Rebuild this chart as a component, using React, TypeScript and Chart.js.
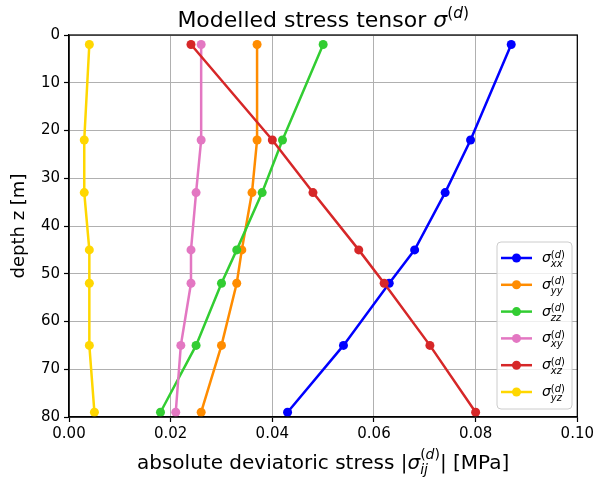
import React, { useEffect, useRef } from 'react';
import { Chart, registerables } from 'chart.js';

Chart.register(...registerables);

// ---- data ----
const depths = [2, 22, 33, 45, 52, 65, 79];
const sigmaXX = [0.087, 0.079, 0.074, 0.068, 0.063, 0.054, 0.043];
const sigmaYY = [0.037, 0.037, 0.036, 0.034, 0.033, 0.030, 0.026];
const sigmaZZ = [0.050, 0.042, 0.038, 0.033, 0.030, 0.025, 0.018];
const sigmaXY = [0.026, 0.026, 0.025, 0.024, 0.024, 0.022, 0.021];
const sigmaXZ = [0.024, 0.040, 0.048, 0.057, 0.062, 0.071, 0.080];
const sigmaYZ = [0.004, 0.003, 0.003, 0.004, 0.004, 0.004, 0.005];

const seriesValues = [sigmaXX, sigmaYY, sigmaZZ, sigmaXY, sigmaXZ, sigmaYZ];
const seriesSubscripts = ['xx', 'yy', 'zz', 'xy', 'xz', 'yz'];
const seriesColors = ['#0000ff', '#ff8c00', '#32cd32', '#e377c2', '#d62728', '#ffd700'];

const xTickValues = [0, 0.02, 0.04, 0.06, 0.08, 0.1];
const yTickValues = [0, 10, 20, 30, 40, 50, 60, 70, 80];

const titleMain = 'Modelled stress tensor ';
const xLabelBefore = 'absolute deviatoric stress |';
const xLabelAfter = '| [MPa]';
const xLabelSub = 'ij';
const yLabel = 'depth z [m]';
const sigmaChar = 'σ';
const supText = 'd';

const FAMILY = '"DejaVu Sans", "Noto Sans", sans-serif';

type TextSeg = { text: string; size: number; italic?: boolean; dy?: number };
type StackSeg = { stack: Seg[][] };
type Seg = TextSeg | StackSeg;

function fontOf(s: TextSeg) {
  return `${s.italic ? 'italic ' : ''}${s.size}px ${FAMILY}`;
}
function segWidth(ctx: CanvasRenderingContext2D, s: Seg): number {
  if ('stack' in s) {
    return Math.max(...s.stack.map((row) => row.reduce((a, r) => a + segWidth(ctx, r), 0)));
  }
  ctx.font = fontOf(s);
  return ctx.measureText(s.text).width;
}
function segsWidth(ctx: CanvasRenderingContext2D, segs: Seg[]) {
  return segs.reduce((a, s) => a + segWidth(ctx, s), 0);
}
function drawSegs(ctx: CanvasRenderingContext2D, segs: Seg[], x: number, y: number) {
  let cx = x;
  for (const s of segs) {
    if ('stack' in s) {
      for (const row of s.stack) drawSegs(ctx, row, cx, y);
      cx += segWidth(ctx, s);
    } else {
      ctx.font = fontOf(s);
      ctx.fillText(s.text, cx, y + (s.dy || 0));
      cx += ctx.measureText(s.text).width;
    }
  }
}
function supSegs(size: number, dy: number): Seg[] {
  return [
    { text: '(', size, dy },
    { text: supText, size, italic: true, dy },
    { text: ')', size, dy },
  ];
}

const decorPlugin = {
  id: 'decor',
  afterDatasetsDraw(chart: any) {
    const ctx: CanvasRenderingContext2D = chart.ctx;
    const a = chart.chartArea;
    ctx.save();
    // frame
    ctx.strokeStyle = '#000';
    ctx.lineWidth = 1.25;
    ctx.strokeRect(a.left, a.top, a.right - a.left, a.bottom - a.top);

    ctx.fillStyle = '#000';
    ctx.textBaseline = 'alphabetic';
    const cx = (a.left + a.right) / 2;

    // title
    const tSize = 22;
    const title: Seg[] = [
      { text: titleMain, size: tSize },
      { text: sigmaChar, size: tSize, italic: true },
      ...supSegs(tSize * 0.7, -9.5),
    ];
    drawSegs(ctx, title, cx - segsWidth(ctx, title) / 2, 27);

    // x label
    const lSize = 20;
    const xl: Seg[] = [
      { text: xLabelBefore, size: lSize },
      { text: sigmaChar, size: lSize, italic: true },
      { stack: [supSegs(lSize * 0.7, -10), [{ text: xLabelSub, size: lSize * 0.7, italic: true, dy: 5 }]] },
      { text: xLabelAfter, size: lSize },
    ];
    drawSegs(ctx, xl, cx - segsWidth(ctx, xl) / 2, 469);

    // y label
    const yl: Seg[] = [{ text: yLabel, size: 18 }];
    ctx.save();
    ctx.translate(24, (a.top + a.bottom) / 2);
    ctx.rotate(-Math.PI / 2);
    drawSegs(ctx, yl, -segsWidth(ctx, yl) / 2, 0);
    ctx.restore();

    // legend
    const bx = 497, by = 242, bw = 75, bh = 167, r = 4;
    ctx.beginPath();
    ctx.moveTo(bx + r, by);
    ctx.arcTo(bx + bw, by, bx + bw, by + bh, r);
    ctx.arcTo(bx + bw, by + bh, bx, by + bh, r);
    ctx.arcTo(bx, by + bh, bx, by, r);
    ctx.arcTo(bx, by, bx + bw, by, r);
    ctx.closePath();
    ctx.fillStyle = 'rgba(255,255,255,0.8)';
    ctx.fill();
    ctx.strokeStyle = '#cccccc';
    ctx.lineWidth = 1;
    ctx.stroke();

    const gSize = 14;
    seriesSubscripts.forEach((sub, i) => {
      const ry = 258 + i * 26.8;
      const col = seriesColors[i];
      ctx.strokeStyle = col;
      ctx.lineWidth = 2.5;
      ctx.beginPath();
      ctx.moveTo(501, ry);
      ctx.lineTo(532, ry);
      ctx.stroke();
      ctx.fillStyle = col;
      ctx.beginPath();
      ctx.arc(516.5, ry, 4.5, 0, Math.PI * 2);
      ctx.fill();
      ctx.fillStyle = '#000';
      const segs: Seg[] = [
        { text: sigmaChar, size: gSize, italic: true },
        { stack: [supSegs(10, -4.5), [{ text: sub, size: 10, italic: true, dy: 5 }]] },
      ];
      drawSegs(ctx, segs, 542, ry + 4);
    });
    ctx.restore();
  },
};

export default function App() {
  const ref = useRef<HTMLCanvasElement>(null);
  useEffect(() => {
    const canvas = ref.current!;
    const tickFont = { family: FAMILY, size: 15 };
    const chart = new Chart(canvas, {
      type: 'scatter',
      data: {
        datasets: seriesValues.map((vals, i) => ({
          label: 'sigma_' + seriesSubscripts[i],
          data: vals.map((v, j) => ({ x: v, y: depths[j] })),
          showLine: true,
          borderColor: seriesColors[i],
          backgroundColor: seriesColors[i],
          borderWidth: 2.5,
          pointRadius: 4.5,
          pointBorderWidth: 0,
          pointHoverRadius: 4.5,
          order: seriesValues.length - 1 - i,
          clip: false as any,
        })),
      },
      options: {
        animation: false,
        responsive: false,
        devicePixelRatio: 1,
        layout: { padding: { top: 35, right: 18, left: 0, bottom: 0 } },
        plugins: { legend: { display: false }, tooltip: { enabled: false }, title: { display: false } },
        scales: {
          x: {
            type: 'linear',
            min: 0,
            max: 0.1,
            afterBuildTicks: (s: any) => {
              s.ticks = xTickValues.map((v) => ({ value: v }));
            },
            afterFit: (s: any) => {
              s.height = 62;
            },
            ticks: {
              font: tickFont,
              color: '#000',
              padding: 3,
              maxRotation: 0,
              autoSkip: false,
              callback: (v: any) => Number(v).toFixed(2),
            },
            grid: { color: '#b0b0b0', lineWidth: 1, tickLength: 5, tickColor: '#000', tickWidth: 1.2 },
            border: { display: true, color: '#000', width: 1.25 },
          },
          y: {
            type: 'linear',
            reverse: true,
            min: 0,
            max: 80,
            afterBuildTicks: (s: any) => {
              s.ticks = yTickValues.map((v) => ({ value: v }));
            },
            afterFit: (s: any) => {
              s.width = 69;
            },
            ticks: { font: tickFont, color: '#000', padding: 4, autoSkip: false },
            grid: { color: '#b0b0b0', lineWidth: 1, tickLength: 5, tickColor: '#000', tickWidth: 1.2 },
            border: { display: true, color: '#000', width: 1.25 },
          },
        },
      } as any,
      plugins: [decorPlugin],
    });
    return () => chart.destroy();
  }, []);
  return (
    <div style={{ position: 'fixed', left: 0, top: 0, width: 597, height: 479, background: '#fff' }}>
      <canvas ref={ref} width={597} height={479} />
    </div>
  );
}
